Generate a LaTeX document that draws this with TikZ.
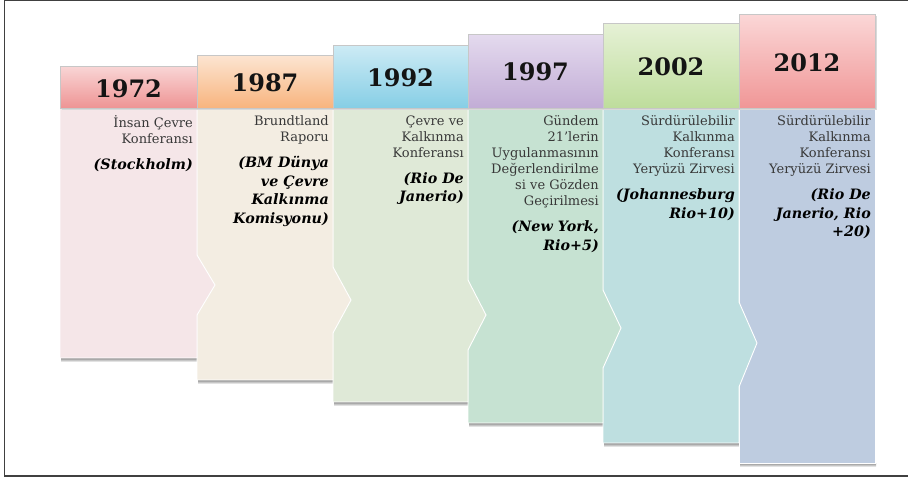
\documentclass[tikz,border=0pt]{standalone}
\usepackage{fontspec}
\setmainfont{DejaVu Serif}
\newcommand{\tlit}[1]{{\color{black}\bfseries\itshape\fontsize{14.3}{16}\selectfont #1}}
\definecolor{hA1}{HTML}{F9D6D6}\definecolor{hA2}{HTML}{EE9494}
\definecolor{hB1}{HTML}{FCE5D2}\definecolor{hB2}{HTML}{F8B47E}
\definecolor{hC1}{HTML}{CDEBF5}\definecolor{hC2}{HTML}{86CEE5}
\definecolor{hD1}{HTML}{E4DAEE}\definecolor{hD2}{HTML}{C2ADD6}
\definecolor{hE1}{HTML}{E6F1D6}\definecolor{hE2}{HTML}{BEDD9C}
\definecolor{hF1}{HTML}{FBD7D7}\definecolor{hF2}{HTML}{F09696}
\definecolor{bA}{HTML}{F5E6E8}
\definecolor{bB}{HTML}{F3EDE2}
\definecolor{bC}{HTML}{DFE9D7}
\definecolor{bD}{HTML}{C6E2D2}
\definecolor{bE}{HTML}{BEDFE0}
\definecolor{bF}{HTML}{BECCE0}
\begin{document}
\begin{tikzpicture}[x=1pt,y=-1pt,
  bodyshape/.style={draw=white, line width=0.9pt, line join=miter},
  hdrshape/.style={draw=black!22, line width=0.5pt},
  hshadow/.style={fill=black!15},
  bshadow/.style={top color=black!45, bottom color=white},
  yr/.style={font=\bfseries\fontsize{24}{28}\selectfont, text=black!92, inner sep=0pt},
  reg/.style={anchor=north east, inner sep=0pt, align=right, text=black!78,
              font=\fontsize{13}{16}\selectfont},
  frameline/.style={draw=black!75, line width=1.3pt}]
\useasboundingbox (0,0) rectangle (908,479);
% frame
\coordinate (fa) at (908,0.8);
\coordinate (fb) at (4.5,0.8);
\coordinate (fc) at (4.5,476);
\coordinate (fd) at (908,476);
\draw[frameline] (fa) -- (fb) -- (fc) -- (fd);
% body shadows
\shade[bshadow] (61,358) rectangle (198,362);
\shade[bshadow] (198,380) rectangle (334,384);
\shade[bshadow] (334,402) rectangle (469,406);
\shade[bshadow] (469,423) rectangle (604,427);
\shade[bshadow] (604,443) rectangle (740,447);
\shade[bshadow] (740,463) rectangle (876,467);
% bodies (right to left so that chevrons overlap)
\path[bodyshape, fill=bF] (739,108) -- (875,108) -- (875,463) -- (739,463) -- cycle;
\path[bodyshape, fill=bE] (603,108) -- (739,108) -- (739,302) -- (757,343) -- (739,387) -- (739,443) -- (603,443) -- cycle;
\path[bodyshape, fill=bD] (468,108) -- (603,108) -- (603,290) -- (621,328) -- (603,368) -- (603,423) -- (468,423) -- cycle;
\path[bodyshape, fill=bC] (333,108) -- (468,108) -- (468,280) -- (486,315) -- (468,350) -- (468,402) -- (333,402) -- cycle;
\path[bodyshape, fill=bB] (197,108) -- (333,108) -- (333,267) -- (351,300) -- (333,333) -- (333,380) -- (197,380) -- cycle;
\path[bodyshape, fill=bA] (60,108) -- (197,108) -- (197,255) -- (215,285) -- (197,315) -- (197,358) -- (60,358) -- cycle;
% header shadows
\fill[hshadow] (61.5,67.5) rectangle (198.5,110);
\fill[hshadow] (198.5,56.5) rectangle (334.5,110);
\fill[hshadow] (334.5,46.5) rectangle (469.5,110);
\fill[hshadow] (469.5,35.5) rectangle (604.5,110);
\fill[hshadow] (604.5,24.5) rectangle (740.5,110);
\fill[hshadow] (740.5,15.5) rectangle (876.5,110);
% headers
\shade[hdrshape, top color=hA1, bottom color=hA2] (60,66) rectangle (197,108);
\shade[hdrshape, top color=hB1, bottom color=hB2] (197,55) rectangle (333,108);
\shade[hdrshape, top color=hC1, bottom color=hC2] (333,45) rectangle (468,108);
\shade[hdrshape, top color=hD1, bottom color=hD2] (468,34) rectangle (603,108);
\shade[hdrshape, top color=hE1, bottom color=hE2] (603,23) rectangle (739,108);
\shade[hdrshape, top color=hF1, bottom color=hF2] (739,14) rectangle (875,108);
% years
\node[yr] (y1) at (128.5,88.5) {1972};
\node[yr] (y2) at (265,83) {1987};
\node[yr] (y3) at (400.5,77.5) {1992};
\node[yr] (y4) at (535.5,72) {1997};
\node[yr] (y5) at (671,67) {2002};
\node[yr] (y6) at (807,62.5) {2012};
% texts
\node[reg] (t1) at (193,115.5) {İnsan Çevre\\Konferansı\\[10pt]\tlit{(Stockholm)}};
\node[reg] (t2) at (329,115.5) {Brundtland\\Raporu\\[10pt]\tlit{(BM Dünya}\\[2.5pt]\tlit{ve Çevre}\\[2.5pt]\tlit{Kalkınma}\\[2.5pt]\tlit{Komisyonu)}};
\node[reg] (t3) at (464,115.5) {Çevre ve\\Kalkınma\\Konferansı\\[10pt]\tlit{(Rio De}\\[2.5pt]\tlit{Janerio)}};
\node[reg] (t4) at (599,115.5) {Gündem\\21’lerin\\Uygulanmasının\\Değerlendirilme\\si ve Gözden\\Geçirilmesi\\[10pt]\tlit{(New York,}\\[2.5pt]\tlit{Rio+5)}};
\node[reg] (t5) at (735,115.5) {Sürdürülebilir\\Kalkınma\\Konferansı\\Yeryüzü Zirvesi\\[10pt]\tlit{(Johannesburg}\\[2.5pt]\tlit{Rio+10)}};
\node[reg] (t6) at (871,115.5) {Sürdürülebilir\\Kalkınma\\Konferansı\\Yeryüzü Zirvesi\\[10pt]\tlit{(Rio De}\\[2.5pt]\tlit{Janerio, Rio}\\[2.5pt]\tlit{+20)}};
\end{tikzpicture}
\end{document}
